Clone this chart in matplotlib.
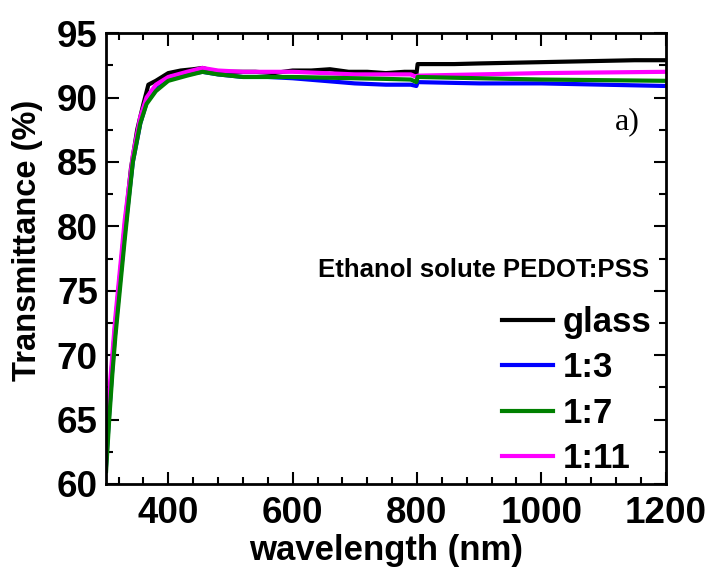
import matplotlib
matplotlib.use("Agg")
import matplotlib.pyplot as plt
from matplotlib.ticker import MultipleLocator

wl_glass = [300, 305, 310, 315, 320, 330, 340, 350, 360, 368, 372, 380, 390, 400, 420, 440, 455, 470, 490, 510, 540, 570, 600, 630, 660, 690, 720, 750, 780, 795, 799, 801, 820, 860, 900, 950, 1000, 1050, 1100, 1150, 1200]
t_glass = [63.0, 66.0, 69.5, 72.5, 75.0, 80.0, 84.5, 87.5, 89.5, 91.0, 91.1, 91.3, 91.6, 91.9, 92.1, 92.2, 92.3, 92.1, 92.0, 92.0, 92.0, 91.9, 92.1, 92.1, 92.2, 92.0, 92.0, 91.9, 92.0, 92.0, 91.8, 92.6, 92.6, 92.6, 92.65, 92.7, 92.75, 92.8, 92.85, 92.9, 92.9]

wl = [300, 305, 310, 315, 320, 330, 343, 355, 365, 380, 400, 430, 455, 480, 520, 560, 600, 650, 700, 750, 790, 799, 801, 850, 900, 1000, 1100, 1200]
t_13 = [61.5, 65.5, 69.0, 72.0, 74.5, 79.5, 85.0, 88.0, 89.6, 90.6, 91.4, 91.8, 92.0, 91.8, 91.6, 91.6, 91.5, 91.3, 91.1, 91.0, 91.0, 90.9, 91.2, 91.15, 91.1, 91.1, 91.0, 90.9]
t_17 = [61.0, 65.0, 68.5, 71.5, 74.0, 79.0, 85.0, 88.0, 89.5, 90.5, 91.3, 91.7, 92.0, 91.8, 91.6, 91.6, 91.6, 91.55, 91.5, 91.45, 91.4, 91.2, 91.6, 91.55, 91.5, 91.4, 91.35, 91.3]
t_111 = [64.0, 67.0, 70.0, 73.0, 75.5, 80.5, 85.5, 88.5, 90.0, 91.0, 91.6, 92.0, 92.3, 92.1, 92.0, 92.0, 92.0, 91.9, 91.8, 91.8, 91.8, 91.6, 91.7, 91.75, 91.8, 91.9, 91.95, 92.0]

labels = ["glass", "1:3", "1:7", "1:11"]
colors = ["black", "blue", "green", "magenta"]

fam = "Liberation Sans"

fig = plt.figure(figsize=(7.12, 5.72), dpi=100)
ax = fig.add_axes([0.149, 0.154, 0.786, 0.788])

lw = 3
h_g, = ax.plot(wl_glass, t_glass, color=colors[0], lw=lw, label=labels[0])
h_b, = ax.plot(wl, t_13, color=colors[1], lw=lw, label=labels[1])
h_p, = ax.plot(wl, t_111, color=colors[3], lw=lw, label=labels[3])
h_gr, = ax.plot(wl, t_17, color=colors[2], lw=lw, label=labels[2])

ax.set_xlim(300, 1200)
ax.set_ylim(60, 95)
ax.xaxis.set_major_locator(MultipleLocator(200))
ax.xaxis.set_minor_locator(MultipleLocator(40))
ax.yaxis.set_major_locator(MultipleLocator(5))
ax.yaxis.set_minor_locator(MultipleLocator(2.5))

ax.tick_params(which="both", direction="in", top=True, right=True, width=1.5)
ax.tick_params(which="major", length=9)
ax.tick_params(which="minor", length=5)
ax.tick_params(axis="x", pad=9)
ax.tick_params(axis="y", pad=6)
for lab in ax.get_xticklabels() + ax.get_yticklabels():
    lab.set_fontfamily(fam)
    lab.set_fontweight("bold")
    lab.set_fontsize(26.5)
for sp in ax.spines.values():
    sp.set_linewidth(2)

ax.set_xlabel("wavelength (nm)", fontsize=25, fontweight="bold", family=fam, labelpad=2)
ax.set_ylabel("Transmittance (%)", fontsize=23.5, fontweight="bold", family=fam)
ax.yaxis.set_label_coords(-0.112, 0.54)

leg = ax.legend([h_g, h_b, h_gr, h_p], labels, loc="lower right", frameon=False,
                prop={"family": fam, "weight": "bold", "size": 25},
                handlelength=1.45, handletextpad=0.3, labelspacing=0.36,
                borderaxespad=0.0, bbox_to_anchor=(1.0, -0.012))
ax.text(0.971, 0.475, "Ethanol solute PEDOT:PSS", transform=ax.transAxes,
        ha="right", va="center", fontsize=18.5, fontweight="bold", family=fam)
ax.text(0.954, 0.803, "a)", transform=ax.transAxes, ha="right", va="center",
        fontsize=23, family="Liberation Serif")

fig.savefig("out.png", dpi=100)
